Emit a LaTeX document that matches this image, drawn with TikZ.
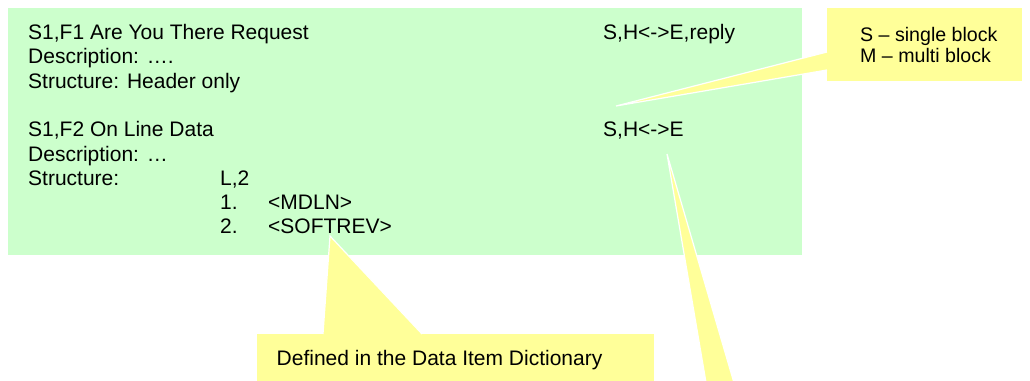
\documentclass[tikz,border=0pt]{standalone}
\usepackage{fontspec}
\setmainfont{Liberation Sans}
\definecolor{msggreen}{RGB}{204,255,204}
\definecolor{noteyellow}{RGB}{255,255,153}
\tikzset{
  txt/.style={inner sep=0pt, anchor=base west, font=\fontsize{21}{24}\selectfont},
  notetxt/.style={txt, font=\fontsize{19.6}{22}\selectfont},
  msgbox/.style={fill=msggreen, inner sep=0pt, anchor=north west},
  notebox/.style={fill=noteyellow, inner sep=0pt, anchor=north west},
  pointer/.style={fill=noteyellow},
  pointeredge/.style={draw=white, line width=1.2pt},
}
\begin{document}
\begin{tikzpicture}[x=1pt, y=-1pt]
\useasboundingbox (0,0) rectangle (1030,380);
\clip (0,0) rectangle (1030,380);
% boxes
\node [msgbox, minimum width=794pt, minimum height=247pt] (msg) at (8,8) {};
\node [notebox, minimum width=195pt, minimum height=73pt] (blocknote) at (827,8) {};
\node [notebox, minimum width=397pt, minimum height=60pt] (dictnote) at (257,334) {};
% pointer tips and feet
\coordinate (tipblock) at (616,106);
\coordinate (tipdict) at (330,236);
\coordinate (tipdir) at (667,154);
\coordinate (dirleft) at (709,400);
\coordinate (dirright) at (739,400);
\coordinate (blockup) at ([yshift=-44pt]blocknote.north west);
\coordinate (blocklow) at ([yshift=-62pt]blocknote.north west);
\coordinate (dictleft) at ([xshift=66pt]dictnote.north west);
\coordinate (dictright) at ([xshift=165pt]dictnote.north west);
% pointers
\fill [pointer] (tipblock) -- (blockup) -- (blocklow) -- cycle;
\draw [pointeredge] (blockup) -- (tipblock) -- (blocklow);
\fill [pointer] (tipdict) -- (dictleft) -- (dictright) -- cycle;
\draw [pointeredge] (dictleft) -- (tipdict) -- (dictright);
\fill [pointer] (tipdir) -- (dirleft) -- (dirright) -- cycle;
\draw [pointeredge] (dirleft) -- (tipdir) -- (dirright);
% S1,F1
\node [txt] (f1title) at (28,39.5) {S1,F1 Are You There Request};
\node [txt] (f1desc) at ([yshift=-24.3pt]f1title.base west) {Description: ….};
\node [txt] (f1struct) at ([yshift=-24.3pt]f1desc.base west) {Structure: Header only};
\node [txt] (f1dir) at (603,39.5) {S,H<->E,reply};
% S1,F2
\node [txt] (f2title) at ([yshift=-48.6pt]f1struct.base west) {S1,F2 On Line Data};
\node [txt] (f2desc) at ([yshift=-24.3pt]f2title.base west) {Description: …};
\node [txt] (f2struct) at ([yshift=-24.3pt]f2desc.base west) {Structure:};
\node [txt] (f2list) at (220,0 |- f2struct.base) {L,2};
\node [txt] (item1) at ([yshift=-24.3pt]f2list.base west) {1.};
\node [txt] (item2) at ([yshift=-24.3pt]item1.base west) {2.};
\node [txt] (mdln) at (268,0 |- item1.base) {<MDLN>};
\node [txt] (softrev) at (268,0 |- item2.base) {<SOFTREV>};
\node [txt] (f2dir) at (603,0 |- f2title.base) {S,H<->E};
% notes
\node [notetxt] (single) at (860,41) {S – single block};
\node [notetxt] (multi) at ([yshift=-21.5pt]single.base west) {M – multi block};
\node [txt] (dicttext) at (276.5,365) {Defined in the Data Item Dictionary};
\end{tikzpicture}
\end{document}
